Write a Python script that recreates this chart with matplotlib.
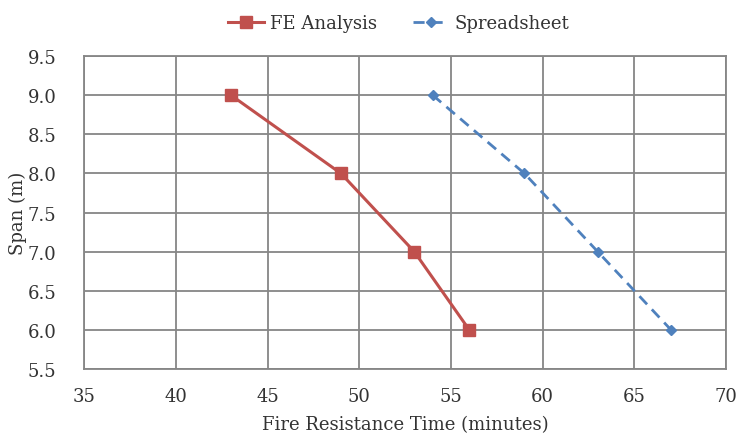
import matplotlib as mpl
mpl.use("Agg")
import matplotlib.pyplot as plt

# data
fe_time = [43, 49, 53, 56]
fe_span = [9.0, 8.0, 7.0, 6.0]
ss_time = [54, 59, 63, 67]
ss_span = [9.0, 8.0, 7.0, 6.0]
xticks = [35, 40, 45, 50, 55, 60, 65, 70]
yticks = [5.5, 6.0, 6.5, 7.0, 7.5, 8.0, 8.5, 9.0, 9.5]

plt.rcParams['font.family'] = ['DejaVu Serif']
plt.rcParams['font.size'] = 13

fig = plt.figure(figsize=(7.38, 4.35), dpi=100)
ax = fig.add_axes([0.114, 0.149, 0.87, 0.72])

grey = '#868686'
txt = '#333333'
ax.plot(fe_time, fe_span, '-', color='#C0504D', lw=2.2, marker='s', ms=8, label='FE Analysis')
ax.plot(ss_time, ss_span, '--', color='#4F81BD', lw=2.0, marker='D', ms=5.5, dashes=(4, 2.5), label='Spreadsheet')

ax.set_xlim(35, 70)
ax.set_ylim(5.5, 9.5)
ax.set_xticks(xticks)
ax.set_yticks(yticks)
ax.set_yticklabels(['%.1f' % v for v in yticks])
ax.grid(True, color=grey, lw=1.3)
ax.set_axisbelow(True)
for s in ax.spines.values():
    s.set_color(grey)
    s.set_linewidth(1.3)
ax.tick_params(axis='x', length=0, pad=13, colors=txt, labelsize=13)
ax.tick_params(axis='y', length=0, pad=20, colors=txt, labelsize=13)
ax.set_xlabel('Fire Resistance Time (minutes)', color=txt, labelpad=7)
ax.set_ylabel('Span (m)', color=txt, labelpad=0)

ax.legend(loc='lower center', bbox_to_anchor=(0.49, 1.025), ncol=2, frameon=False,
          handlelength=2.0, columnspacing=2.0, handletextpad=0.3, fontsize=13,
          labelcolor=txt)

fig.savefig('out.png', dpi=100)
